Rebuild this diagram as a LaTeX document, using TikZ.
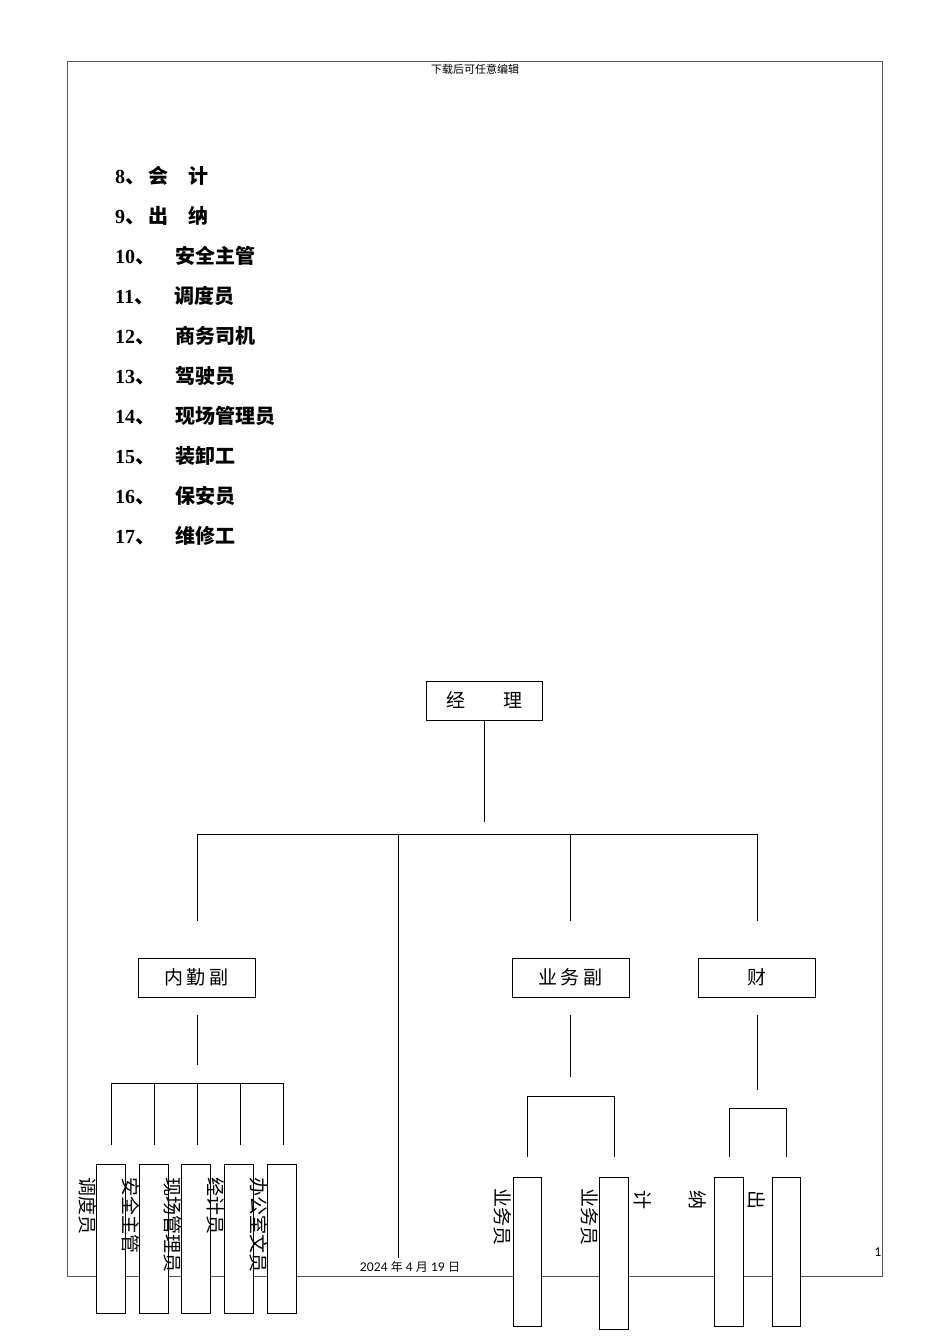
\documentclass[tikz,border=0pt]{standalone}
\usepackage{fontspec}
\setmainfont{Liberation Serif}
\newfontfamily\cjk{Noto Sans CJK SC}
\newfontfamily\lato{Lato}
\begin{document}
\begin{tikzpicture}[x=1pt,y=-1pt,
  ln/.style={line width=0.9pt},
  bx/.style={draw,line width=0.9pt,fill=white},
  rl/.style={rotate=-90,anchor=west,inner sep=0pt,font=\cjk\fontsize{19}{19}\selectfont},
  lt/.style={anchor=west,inner sep=0pt,font=\bfseries\fontsize{20}{20}\selectfont},
  bt/.style={font=\cjk\fontsize{19}{19}\selectfont}]
\useasboundingbox (0,0) rectangle (950,1344);
\draw[gray!70!black,line width=0.8pt] (67,61) rectangle (882,1276);
\node[font=\cjk\fontsize{11}{11}\selectfont] (hdr) at (475,69) {下载后可任意编辑};
\foreach \n/\t [count=\i from 0] in {8/{会\quad 计},9/{出\quad 纳}}{
  \node[lt] (l\i) at (115,176+40*\i) {\n{\cjk\bfseries 、\,\t}};}
\foreach \n/\t [count=\i from 2] in {10/安全主管,11/调度员,12/商务司机,13/驾驶员,14/现场管理员,15/装卸工,16/保安员,17/维修工}{
  \node[lt] (l\i) at (115,176+40*\i) {\n{\cjk\bfseries 、\quad \t}};}
% boxes
\node[bx,minimum width=116pt,minimum height=39pt,bt] (jl) at (484,700.5) {经\qquad 理};
\node[bx,minimum width=117pt,minimum height=39pt,bt] (nq) at (196.5,977.5) {内\,勤\,副};
\node[bx,minimum width=117pt,minimum height=39pt,bt] (yw) at (570.5,977.5) {业\,务\,副};
\node[bx,minimum width=117pt,minimum height=39pt,bt] (cw) at (756.5,977.5) {财};
\coordinate (a0) at (484,822);
\draw[ln] (jl.south) -- (a0);
\draw[ln] (197,921) -- (197,834) -- (757,834) -- (757,921);
\draw[ln] (570,834) -- (570,921);
\draw[ln] (398,834) -- (398,1258);
% 内勤
\draw[ln] (197,1015) -- (197,1065);
\draw[ln] (111,1145) -- (111,1083) -- (283,1083) -- (283,1145);
\foreach \x in {154,197,240} \draw[ln] (\x,1083) -- (\x,1145);
\foreach \x/\t [count=\i] in {88/调度员,131/安全主管,173/现场管理员,216/经计员,259/办公室文员}{
  \node[bx,minimum width=29pt,minimum height=149pt,inner sep=0pt] (n\i) at (\x+22.5,1238.5) {};
  \node[rl] (nt\i) at (\x,1177) {\t};}
% 业务
\draw[ln] (570,1015) -- (570,1077);
\draw[ln] (527,1157) -- (527,1096) -- (614,1096) -- (614,1157);
\node[bx,minimum width=28pt,minimum height=149pt,inner sep=0pt] (y1) at (527,1251.5) {};
\node[bx,minimum width=29pt,minimum height=152pt,inner sep=0pt] (y2) at (613.5,1253) {};
\node[rl] (yt1) at (503,1188) {业务员};
\node[rl] (yt2) at (590,1188) {业务员};
\node[rl] (yt3) at (643,1190) {计};
% 财
\draw[ln] (757,1015) -- (757,1090);
\draw[ln] (729,1157) -- (729,1108) -- (786,1108) -- (786,1157);
\node[bx,minimum width=29pt,minimum height=149pt,inner sep=0pt] (c1) at (728.5,1251.5) {};
\node[bx,minimum width=28pt,minimum height=149pt,inner sep=0pt] (c2) at (786,1251.5) {};
\node[rl] (ct1) at (698,1190) {纳};
\node[rl] (ct2) at (757,1190) {出};
% footer
\node[font=\lato\fontsize{12}{12}\selectfont] (ft) at (410,1267) {2024 {\cjk 年} 4 {\cjk 月} 19 {\cjk 日}};
\node[font=\lato\fontsize{12}{12}\selectfont] (pg) at (878,1252) {1};
\end{tikzpicture}
\end{document}
